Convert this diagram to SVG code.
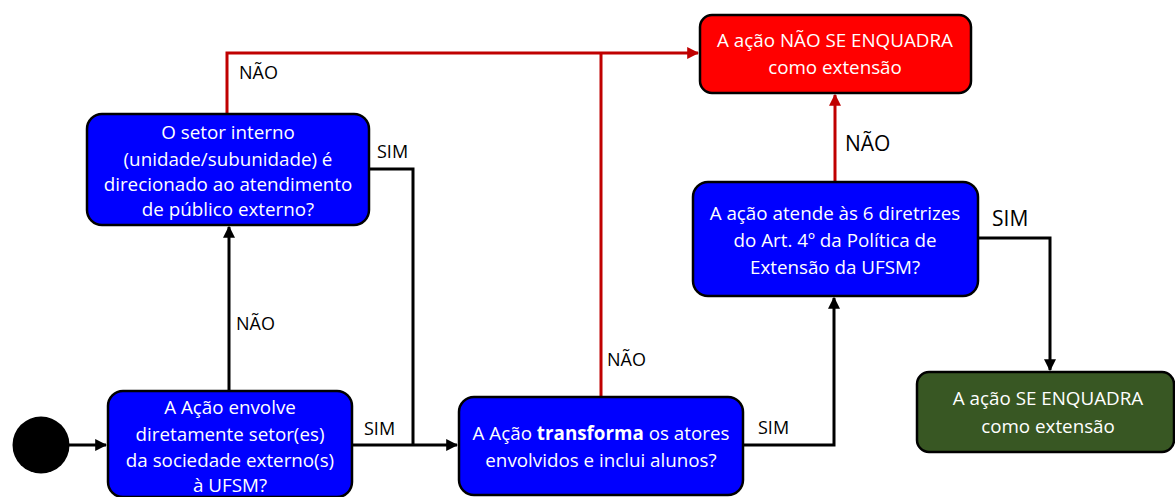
<svg xmlns="http://www.w3.org/2000/svg" width="1175" height="497" viewBox="0 0 1175 497">
<style>
.box{stroke:#000;stroke-width:2.5}
.blue{fill:#0000FF}
.red{fill:#FF0000}
.green{fill:#385723}
.t{font-family:"Open Sans","Liberation Sans",sans-serif;font-size:18.8px;fill:#fff;text-anchor:middle}
.lbl{font-family:"Open Sans","Liberation Sans",sans-serif;font-size:18px;fill:#000}
.big{font-size:21px}
.k{fill:none;stroke:#000;stroke-width:3}
.r{fill:none;stroke:#C00000;stroke-width:3}
</style>
<defs>
<marker id="ak" viewBox="0 0 10 10" refX="9" refY="5" markerWidth="4" markerHeight="4" orient="auto" markerUnits="strokeWidth"><path d="M0,0 L10,5 L0,10 z" fill="#000"/></marker>
<marker id="ar" viewBox="0 0 10 10" refX="9" refY="5" markerWidth="4" markerHeight="4" orient="auto" markerUnits="strokeWidth"><path d="M0,0 L10,5 L0,10 z" fill="#C00000"/></marker>
</defs>
<rect width="1175" height="497" fill="#fff"/>
<g id="connectors">
<path class="k" d="M69,445 L106,445" marker-end="url(#ak)"/>
<path class="k" d="M229,391 L229,227" marker-end="url(#ak)"/>
<path class="k" d="M369,169 L413,169 L413,445"/>
<path class="k" d="M352,445 L457,445" marker-end="url(#ak)"/>
<path class="k" d="M743,445 L834,445 L834,298" marker-end="url(#ak)"/>
<path class="k" d="M978,238 L1050,238 L1050,370" marker-end="url(#ak)"/>
<path class="r" d="M227,114 L227,53 L698,53" marker-end="url(#ar)"/>
<path class="r" d="M601,397 L601,53"/>
<path class="r" d="M835,182 L835,95" marker-end="url(#ar)"/>
<text class="lbl" x="239" y="79">NÃO</text>
<text class="lbl" x="377" y="158">SIM</text>
<text class="lbl" x="236" y="330">NÃO</text>
<text class="lbl" x="364" y="435">SIM</text>
<text class="lbl" x="607" y="366">NÃO</text>
<text class="lbl" x="758" y="434">SIM</text>
<text class="lbl big" x="845" y="151">NÃO</text>
<text class="lbl big" x="992" y="226">SIM</text>
</g>
<g id="start"><circle cx="41" cy="445" r="28.5" fill="#000"/></g>
<g id="n-envolve">
<rect class="box blue" x="108" y="391" width="244" height="106" rx="15"/>
<text class="t" x="230" y="414">A Ação envolve</text>
<text class="t" x="230" y="441">diretamente setor(es)</text>
<text class="t" x="230" y="467">da sociedade externo(s)</text>
<text class="t" x="230" y="492">à UFSM?</text>
</g>
<g id="n-setor">
<rect class="box blue" x="87" y="114" width="282" height="111" rx="15"/>
<text class="t" x="228" y="139">O setor interno</text>
<text class="t" x="228" y="166">(unidade/subunidade) é</text>
<text class="t" x="228" y="191">direcionado ao atendimento</text>
<text class="t" x="228" y="216">de público externo?</text>
</g>
<g id="n-transforma">
<rect class="box blue" x="459" y="397" width="284" height="98" rx="15"/>
<text class="t" x="601" y="440">A Ação <tspan font-weight="bold">transforma</tspan> os atores</text>
<text class="t" x="601" y="467">envolvidos e inclui alunos?</text>
</g>
<g id="n-diretrizes">
<rect class="box blue" x="693" y="182" width="285" height="114" rx="15"/>
<text class="t" x="835" y="220">A ação atende às 6 diretrizes</text>
<text class="t" x="835" y="247">do Art. 4º da Política de</text>
<text class="t" x="835" y="274">Extensão da UFSM?</text>
</g>
<g id="n-nao">
<rect class="box red" x="700" y="15" width="271" height="78" rx="12"/>
<text class="t" x="835" y="47">A ação NÃO SE ENQUADRA</text>
<text class="t" x="835" y="74">como extensão</text>
</g>
<g id="n-sim">
<rect class="box green" x="917" y="372" width="257" height="80" rx="12"/>
<text class="t" x="1048" y="405">A ação SE ENQUADRA</text>
<text class="t" x="1048" y="433">como extensão</text>
</g>
</svg>
